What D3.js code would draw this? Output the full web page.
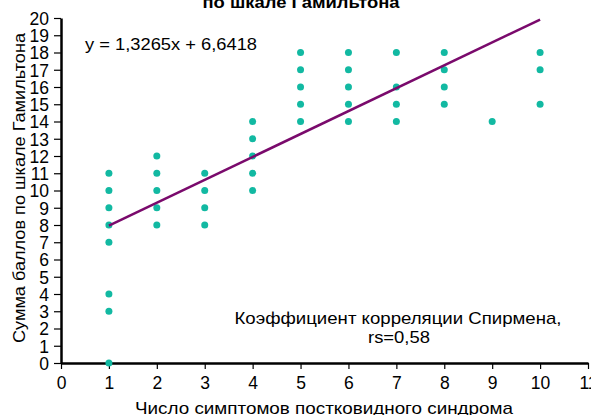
<!DOCTYPE html>
<html lang="ru"><head>
<meta charset="utf-8">
<script src="https://cdnjs.cloudflare.com/ajax/libs/d3/7.8.5/d3.min.js"></script>
<style>
  body { margin: 0; background: #fff; }
  text { font-family: "Liberation Sans", Arial, sans-serif; }
</style>
</head>
<body>
<svg id="chart" width="591" height="415"></svg>
<script>
// symptom count -> Hamilton scores observed
var symptoms = [1, 2, 3, 4, 5, 6, 7, 8, 9, 10];
var scores = [
  [11, 10, 9, 8, 7, 4, 3, 0],
  [12, 11, 10, 9, 8],
  [11, 10, 9, 8],
  [14, 13, 12, 11, 10],
  [18, 17, 16, 15, 14],
  [18, 17, 16, 15, 14],
  [18, 16, 15, 14],
  [18, 17, 16, 15],
  [14],
  [18, 17, 15]
];
var slope = 1.3265, intercept = 6.6418;
var xTicks = d3.range(0, 12);
var yTicks = d3.range(0, 21);

var svg = d3.select("#chart");
var x = d3.scaleLinear().domain([0, 11]).range([61, 588]);
var y = d3.scaleLinear().domain([0, 20]).range([363, 18]);

var points = [];
symptoms.forEach(function(s, i) {
  scores[i].forEach(function(v) { points.push({x: s, y: v}); });
});

// helper: text stretched to the width seen in the picture
function label(px, py, size, width, str, anchor) {
  return svg.append("text").attr("x", px).attr("y", py)
    .attr("font-size", size).attr("text-anchor", anchor || "start")
    .attr("textLength", width).attr("lengthAdjust", "spacingAndGlyphs")
    .text(str);
}

// title (partly cut at the top)
label(301, 8, 16.5, 197, "по шкале Гамильтона", "middle").attr("font-weight", "bold");

// axes
var yAxis = svg.append("g").attr("transform", "translate(61,0)")
  .call(d3.axisLeft(y).tickValues(yTicks).tickSize(7).tickSizeOuter(0));
var xAxis = svg.append("g").attr("transform", "translate(0,363)")
  .call(d3.axisBottom(x).tickValues(xTicks).tickSize(6).tickSizeOuter(0));

[yAxis, xAxis].forEach(function(a) {
  a.select(".domain").attr("stroke", "#000").attr("stroke-width", 2.5);
  a.selectAll(".tick line").attr("stroke", "#000").attr("stroke-width", 1.2);
  a.selectAll(".tick text").attr("font-size", 17.5).attr("fill", "#000")
    .style("font-family", "'Liberation Sans', Arial, sans-serif");
});
yAxis.selectAll(".tick text").attr("x", -12).attr("dy", "0.36em");
xAxis.selectAll(".tick text").attr("y", 14);

// dots
svg.append("g").selectAll("circle").data(points).enter().append("circle")
  .attr("cx", function(d) { return x(d.x); })
  .attr("cy", function(d) { return y(d.y); })
  .attr("r", 3.5)
  .attr("fill", "#12b9a2");

// trend line
svg.append("line")
  .attr("x1", x(1)).attr("y1", y(slope * 1 + intercept))
  .attr("x2", x(10)).attr("y2", y(slope * 10 + intercept))
  .attr("stroke", "#7a0a6c").attr("stroke-width", 2.5);

label(85, 50, 16.5, 172, "y = 1,3265x + 6,6418");
label(398, 324, 17, 327, "Коэффициент корреляции Спирмена,", "middle");
label(399, 343, 17, 62, "rs=0,58", "middle");

// axis titles
svg.append("text").attr("transform", "translate(25,188) rotate(-90)")
  .attr("text-anchor", "middle").attr("font-size", 17)
  .attr("textLength", 310).attr("lengthAdjust", "spacingAndGlyphs")
  .text("Сумма баллов по шкале Гамильтона");
label(324, 414, 17, 378, "Число симптомов постковидного синдрома", "middle");
</script>
</body></html>
